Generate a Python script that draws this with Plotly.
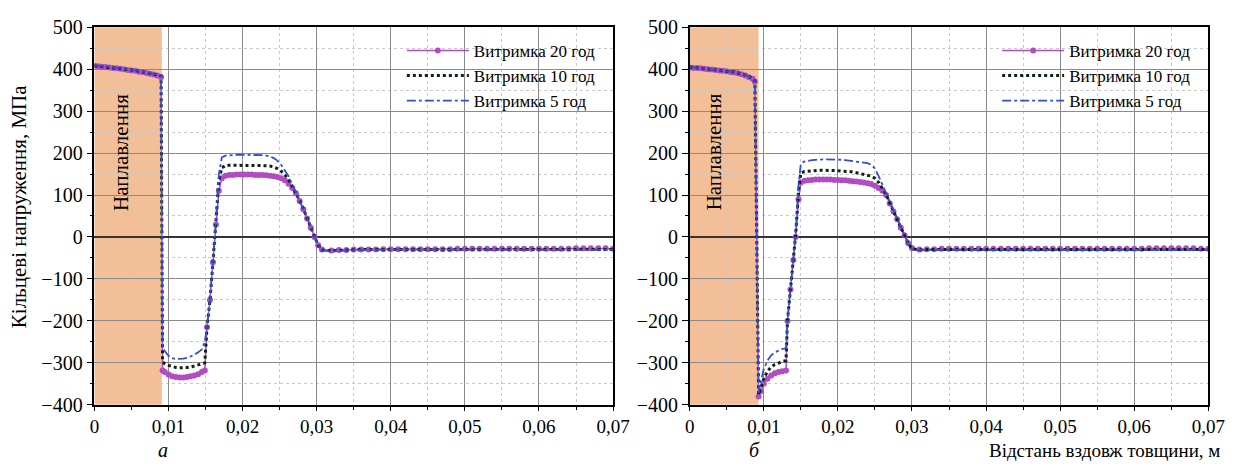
import plotly.graph_objects as go

# ---------------- data ----------------
# panel (а): distance along thickness, m
x_a = [0, .0005, .001, .0015, .002, .0025, .003, .0035, .004, .0045, .005, .0055, .006, .0065,
       .007, .0075, .008, .0085, .009, .0092,
       .0095, .010, .0105, .011, .0115, .012, .0125, .013, .0135, .014, .0145, .0149,
       .0152, .0156, .016, .0164, .0168,
       .0172, .0177, .0182, .0187, .0192, .0197, .0202, .0207, .0212, .0217, .0222, .0227,
       .0232, .0237, .0242, .0247, .0252, .0257, .0262,
       .0267, .0272, .0277, .0282, .0287, .0292, .0297, .0302, .0307,
       .032, .033, .034, .035, .036, .037, .038, .039, .040, .041, .042, .043, .044, .045,
       .046, .047, .048, .049, .050, .051, .052, .053, .054, .055, .056, .057, .058, .059,
       .060, .061, .062, .063, .064, .065, .066, .067, .068, .069, .070]

# hoop stress, MPa
a_20h = [408, 407, 406, 405, 404, 403, 402, 401, 400, 398, 397, 396, 394, 393,
         391, 389, 387, 385, 381, -318,
         -322, -328, -332, -334, -335, -335, -334, -332, -330, -327, -322, -318,
         -215, -150, -60, 30, 110,
         140, 146, 148, 148, 149, 149, 149, 149, 149, 148, 148, 148,
         147, 146, 145, 143, 140, 135, 127,
         117, 104, 86, 66, 44, 22, 0, -20, -30,
         -32, -31, -31, -30, -30, -30, -30, -29, -29, -29, -29, -29, -29, -29,
         -29, -29, -29, -28, -28, -28, -28, -28, -28, -28, -28, -28, -28, -28,
         -28, -28, -28, -28, -28, -27, -27, -27, -27, -27, -28]

a_10h = [408, 407, 406, 405, 405, 404, 403, 402, 401, 399, 398, 397, 395, 394,
         392, 390, 388, 386, 384, -298,
         -302, -306, -309, -311, -312, -312, -311, -310, -308, -305, -302, -300,
         -215, -150, -60, 35, 135,
         165, 170, 171, 171, 171, 171, 171, 171, 171, 171, 171, 170,
         170, 169, 167, 163, 157, 148, 136,
         121, 105, 87, 67, 45, 23, 1, -20, -31,
         -33, -32, -31, -31, -30, -30, -30, -30, -30, -30, -30, -30, -30, -30,
         -30, -30, -30, -30, -30, -30, -30, -30, -30, -30, -30, -30, -30, -30,
         -30, -30, -30, -30, -30, -29, -29, -29, -29, -29, -30]

a_5h = [409, 408, 407, 406, 405, 404, 403, 402, 401, 400, 399, 397, 396, 394,
        393, 391, 389, 387, 385, -262,
        -272, -283, -289, -291, -291, -290, -288, -285, -281, -275, -268, -250,
        -215, -150, -60, 40, 150,
        190, 194, 195, 196, 196, 196, 196, 196, 196, 196, 196, 195,
        194, 192, 188, 182, 172, 160, 145,
        126, 107, 88, 68, 46, 24, 2, -20, -32,
        -35, -33, -32, -31, -31, -31, -30, -30, -30, -30, -30, -30, -30, -30,
        -30, -30, -30, -30, -30, -30, -30, -30, -30, -30, -30, -30, -30, -30,
        -30, -30, -30, -30, -30, -30, -30, -30, -30, -30, -31]

# panel (б)
x_b = [0, .0005, .001, .0015, .002, .0025, .003, .0035, .004, .0045, .005, .0055, .006, .0065,
       .007, .0075, .008, .0085, .0088,
       .0093, .0096, .010, .0105, .011, .0115, .012, .0125, .013,
       .0132, .0136, .014, .0143, .0147,
       .015, .0155, .016, .0165, .017, .0175, .018, .0185, .019, .0195, .020, .0205,
       .021, .0215, .022, .0225, .023, .0235, .024, .0245, .025, .0255, .026,
       .0265, .027, .0275, .028, .0285, .029, .0295, .030,
       .031, .032, .033, .034, .035, .036, .037, .038, .039, .040, .041, .042, .043, .044,
       .045, .046, .047, .048, .049, .050, .051, .052, .053, .054, .055, .056, .057, .058,
       .059, .060, .061, .062, .063, .064, .065, .066, .067, .068, .069, .070]

b_20h = [404, 403, 403, 402, 401, 400, 399, 398, 397, 396, 395, 393, 392, 390,
         388, 385, 381, 377, 370,
         -380, -368, -350, -338, -330, -325, -322, -320, -318,
         -200, -125, -55, 0, 90,
         130, 134, 135, 136, 137, 137, 137, 137, 137, 136, 136, 135,
         135, 134, 133, 132, 131, 130, 128, 126, 122, 117, 110,
         100, 80, 61, 42, 22, 4, -15, -26,
         -30, -29, -29, -28, -28, -28, -28, -28, -28, -28, -28, -28, -28, -28,
         -28, -28, -28, -28, -28, -28, -28, -28, -28, -28, -28, -28, -28, -28,
         -28, -28, -28, -27, -27, -27, -27, -27, -27, -27, -28, -28]

b_10h = [405, 404, 404, 403, 402, 401, 400, 399, 398, 397, 396, 394, 393, 391,
         389, 386, 382, 378, 372,
         -376, -360, -338, -320, -310, -304, -300, -297, -295,
         -200, -125, -55, 5, 110,
         152, 156, 157, 158, 158, 159, 159, 159, 159, 158, 158, 157,
         157, 156, 155, 153, 152, 150, 148, 145, 140, 130, 116,
         102, 81, 62, 42, 22, 4, -16, -28,
         -31, -30, -30, -30, -30, -30, -30, -30, -30, -30, -30, -30, -30, -30,
         -30, -30, -30, -30, -30, -30, -30, -30, -30, -30, -30, -30, -30, -30,
         -30, -30, -30, -29, -29, -29, -29, -29, -29, -29, -30, -30]

b_5h = [405, 404, 404, 403, 402, 401, 400, 399, 398, 397, 396, 394, 393, 391,
        389, 386, 382, 378, 372,
        -372, -345, -315, -295, -282, -275, -270, -267, -265,
        -200, -125, -55, 10, 125,
        175, 180, 182, 183, 184, 185, 185, 185, 185, 185, 184, 184,
        183, 182, 181, 180, 179, 178, 176, 172, 163, 145, 125,
        104, 82, 62, 42, 22, 4, -16, -29,
        -32, -31, -31, -30, -30, -30, -30, -30, -30, -30, -30, -30, -30, -30,
        -30, -30, -30, -30, -30, -30, -30, -30, -30, -30, -30, -30, -30, -30,
        -30, -30, -30, -30, -30, -30, -30, -30, -30, -30, -31, -31]

# cladding (surfacing) layer thickness, m
clad_a = 0.0091
clad_b = 0.0093

series_names = ["Витримка 20 год", "Витримка 10 год", "Витримка 5 год"]

x_tickvals = [0, 0.01, 0.02, 0.03, 0.04, 0.05, 0.06, 0.07]
x_ticktext = ["0", "0,01", "0,02", "0,03", "0,04", "0,05", "0,06", "0,07"]
y_tickvals = [-400, -300, -200, -100, 0, 100, 200, 300, 400, 500]
y_ticktext = ["−400", "−300", "−200", "−100", "0", "100", "200", "300", "400", "500"]

# ---------------- figure ----------------
W, H = 1244, 473
FONT = "Liberation Serif"

def px_x(p):
    return p / W

def px_y(p):
    return 1 - p / H

styles = [
    dict(mode="lines+markers", line=dict(color="#b24cc4", width=1.5),
         marker=dict(symbol="circle", size=6, color="#b24cc4")),
    dict(mode="lines", line=dict(color="#0c2410", width=3, dash="dot")),
    dict(mode="lines", line=dict(color="#2f4fd6", width=1.8, dash="dashdot")),
]

fig = go.Figure()

panels = [
    ("x", "y", "legend", x_a, [a_20h, a_10h, a_5h]),
    ("x2", "y2", "legend2", x_b, [b_20h, b_10h, b_5h]),
]
for xr, yr, leg, xs, ys in panels:
    for name, yv, st in zip(series_names, ys, styles):
        fig.add_trace(go.Scatter(x=xs, y=yv, name=name, xaxis=xr, yaxis=yr,
                                 legend=leg, **st))

dom_a = [px_x(91), px_x(619)]
dom_b = [px_x(697), px_x(1225)]
dom_y = [px_y(413), px_y(17)]

def xaxis(dom, anchor):
    return dict(domain=dom, anchor=anchor, range=[0, 0.07],
                tickvals=x_tickvals, ticktext=x_ticktext,
                ticks="outside", ticklen=4, tickwidth=1.2, tickcolor="black",
                showline=True, mirror=True, linecolor="black", linewidth=1.5,
                showgrid=True, gridcolor="#8a8a8a", gridwidth=1,
                zeroline=False,
                minor=dict(dtick=0.005, tick0=0, ticks="outside", ticklen=3,
                           tickcolor="black", showgrid=True, griddash="dot",
                           gridcolor="#c8c8c8", gridwidth=1),
                tickfont=dict(family=FONT, size=19, color="black"))

def yaxis(anchor):
    return dict(domain=dom_y, anchor=anchor, range=[-400, 500],
                tickvals=y_tickvals, ticktext=y_ticktext,
                ticks="outside", ticklen=6, tickwidth=1.2, tickcolor="black",
                showline=True, mirror=True, linecolor="black", linewidth=1.5,
                showgrid=True, gridcolor="#8a8a8a", gridwidth=1,
                zeroline=True, zerolinecolor="#333333", zerolinewidth=1.6,
                minor=dict(dtick=50, tick0=0, ticks="outside", ticklen=3,
                           tickcolor="black", showgrid=True, griddash="dot",
                           gridcolor="#c8c8c8", gridwidth=1),
                tickfont=dict(family=FONT, size=20, color="black"))

legend_common = dict(bgcolor="rgba(0,0,0,0)", borderwidth=0,
                     font=dict(family=FONT, size=17, color="black"),
                     xanchor="left", yanchor="top", itemwidth=62,
                     tracegroupgap=0)

fig.update_layout(
    width=W, height=H,
    margin=dict(l=0, r=0, t=0, b=0),
    paper_bgcolor="white", plot_bgcolor="white",
    font=dict(family=FONT, size=18, color="black"),
    xaxis=xaxis(dom_a, "y"), yaxis=yaxis("x"),
    xaxis2=xaxis(dom_b, "y2"), yaxis2=yaxis("x2"),
    legend=dict(x=px_x(404), y=px_y(23), **legend_common),
    legend2=dict(x=px_x(1010), y=px_y(23), **legend_common),
    showlegend=True,
)

# cladding layer bands
for xr, yr, w in (("x", "y", clad_a), ("x2", "y2", clad_b)):
    fig.add_shape(type="rect", xref=xr, yref=yr + " domain", x0=0, x1=w, y0=0, y1=1,
                  fillcolor="#f3bf98", line=dict(width=0), layer="below")

# cladding labels
for xp in (118, 722):
    fig.add_annotation(text="Наплавлення", textangle=-90, showarrow=False,
                       xref="paper", yref="paper", x=px_x(xp), y=px_y(148),
                       xanchor="center", yanchor="middle",
                       font=dict(family=FONT, size=21, color="black"))

# axis titles and panel letters
fig.add_annotation(text="Кільцеві напруження, МПа", textangle=-90, showarrow=False,
                   xref="paper", yref="paper", x=px_x(15), y=px_y(205),
                   xanchor="center", yanchor="middle",
                   font=dict(family=FONT, size=21, color="black"))
fig.add_annotation(text="Відстань вздовж товщини, м", showarrow=False,
                   xref="paper", yref="paper", x=px_x(1238), y=px_y(473),
                   xanchor="right", yanchor="bottom", borderpad=0,
                   font=dict(family=FONT, size=19, color="black"))
for letter, xp in (("а", 161), ("б", 763)):
    fig.add_annotation(text="<i>" + letter + "</i>", showarrow=False,
                       xref="paper", yref="paper", x=px_x(xp), y=px_y(473),
                       xanchor="center", yanchor="bottom", borderpad=0,
                       font=dict(family=FONT, size=20, color="black"))

fig.write_html("out.html")
